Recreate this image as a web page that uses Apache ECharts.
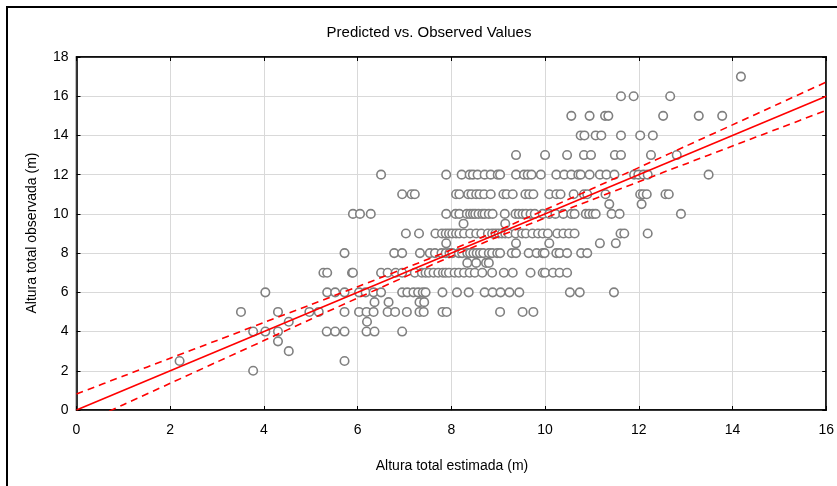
<!DOCTYPE html>
<html>
<head>
<meta charset="utf-8">
<script src="https://cdn.jsdelivr.net/npm/echarts@6/dist/echarts.min.js"></script>
<style>
  html, body { margin: 0; padding: 0; background: #fff; }
  #chart { width: 837px; height: 486px; }
</style>
</head>
<body>
<div id="chart"></div>
<script>
// Observed heights (m) and the estimated heights of the trees at each observed height
const observedLevels = [17, 16, 15, 14, 13, 12, 11, 10.5, 10, 9.5, 9, 8.5, 8, 7.5, 7, 6, 5.5, 5, 4.5, 4, 3.5, 3, 2.5, 2];
const estimatedByLevel = [
  [14.18],
  [11.62, 11.89, 12.67],
  [10.56, 10.95, 11.28, 11.35, 12.52, 13.28, 13.78],
  [10.76, 10.84, 11.08, 11.2, 11.62, 12.03, 12.3],
  [9.38, 10.0, 10.47, 10.83, 10.98, 11.49, 11.62, 12.26, 12.81],
  [6.5, 7.89, 8.22, 8.39, 8.46, 8.56, 8.71, 8.84, 8.99, 9.04, 9.38, 9.55, 9.63, 9.71, 9.91, 10.24, 10.41, 10.56, 10.71, 10.76, 10.95, 11.17, 11.31, 11.48, 11.90, 11.99, 12.10, 12.19, 13.49],
  [6.95, 7.15, 7.22, 8.10, 8.17, 8.36, 8.43, 8.53, 8.60, 8.70, 8.84, 9.11, 9.18, 9.31, 9.58, 9.66, 9.75, 10.09, 10.24, 10.33, 10.61, 10.83, 10.90, 11.29, 12.03, 12.09, 12.17, 12.57, 12.64],
  [11.37, 12.06],
  [5.9, 6.05, 6.28, 7.89, 8.09, 8.17, 8.33, 8.40, 8.46, 8.51, 8.58, 8.66, 8.71, 8.80, 8.88, 9.14, 9.37, 9.44, 9.52, 9.59, 9.69, 9.78, 9.95, 10.09, 10.22, 10.39, 10.56, 10.63, 10.87, 10.94, 11.02, 11.08, 11.42, 11.59, 12.9],
  [8.26, 9.15],
  [7.03, 7.31, 7.66, 7.80, 7.88, 7.95, 8.02, 8.10, 8.17, 8.27, 8.40, 8.53, 8.64, 8.78, 8.87, 8.94, 9.01, 9.08, 9.15, 9.22, 9.37, 9.51, 9.59, 9.73, 9.85, 9.95, 10.06, 10.26, 10.39, 10.51, 10.63, 11.61, 11.69, 12.19],
  [7.89, 9.38, 10.09, 11.17, 11.51],
  [5.72, 6.78, 6.95, 7.33, 7.54, 7.65, 7.79, 7.88, 7.96, 8.02, 8.16, 8.23, 8.34, 8.40, 8.47, 8.54, 8.61, 8.68, 8.80, 8.87, 8.98, 9.04, 9.29, 9.38, 9.65, 9.82, 9.95, 9.99, 10.24, 10.31, 10.47, 10.77, 10.90],
  [8.34, 8.53, 8.74, 8.80],
  [5.27, 5.35, 5.88, 5.90, 6.50, 6.64, 6.81, 6.95, 7.22, 7.37, 7.45, 7.52, 7.62, 7.72, 7.82, 7.88, 7.95, 8.07, 8.16, 8.27, 8.39, 8.50, 8.66, 8.87, 9.12, 9.31, 9.69, 9.95, 10.00, 10.17, 10.31, 10.47],
  [4.03, 5.35, 5.52, 5.72, 6.03, 6.17, 6.34, 6.50, 6.95, 7.06, 7.19, 7.29, 7.39, 7.45, 7.81, 8.12, 8.37, 8.71, 8.88, 9.05, 9.24, 9.45, 10.53, 10.74, 11.47],
  [6.36, 6.66, 7.32, 7.42],
  [3.51, 4.30, 4.97, 5.17, 5.72, 6.03, 6.19, 6.34, 6.64, 6.80, 7.05, 7.32, 7.41, 7.81, 7.90, 9.04, 9.52, 9.75],
  [4.53, 6.20],
  [3.77, 4.03, 4.30, 5.34, 5.52, 5.72, 6.19, 6.36, 6.95],
  [4.30],
  [4.53],
  [2.2, 5.72],
  [3.77]
];

// Fitted line and its 95% confidence band
const fitX = [0, 16];
const fitY = [0, 16];
const bandX = [0, 1, 2, 3, 4, 5, 6, 7, 8, 9, 10, 11, 12, 13, 14, 15, 16];
const bandUpper = [0.82, 1.73, 2.64, 3.55, 4.46, 5.37, 6.29, 7.22, 8.17, 9.16, 10.21, 11.28, 12.36, 13.45, 14.54, 15.63, 16.72];
const bandLower = [-0.82, 0.27, 1.36, 2.45, 3.54, 4.63, 5.71, 6.78, 7.83, 8.84, 9.79, 10.72, 11.64, 12.55, 13.46, 14.37, 15.28];

const titleText = 'Predicted vs. Observed Values';
const xName = 'Altura total estimada (m)';
const yName = 'Altura total observada (m)';

const points = [];
observedLevels.forEach((obs, i) => {
  estimatedByLevel[i].forEach(est => points.push([est, obs]));
});
const zip = (xs, ys) => xs.map((x, i) => [x, ys[i]]);

const FONT = 'Liberation Sans, Arial, sans-serif';
const gridLine = { show: true, lineStyle: { color: '#d9d9d9', width: 1 } };

const chart = echarts.init(document.getElementById('chart'), null, { renderer: 'canvas' });
chart.setOption({
  animation: false,
  backgroundColor: '#fff',
  grid: {
    left: 76.5, right: 9, top: 57, bottom: 76,
    show: true, borderColor: '#000', borderWidth: 1.5, backgroundColor: 'transparent'
  },
  xAxis: [{
    type: 'value', min: 0, max: 16, interval: 2,
    axisLine: { show: true, onZero: false, lineStyle: { color: '#000', width: 1.5 } },
    axisTick: { show: true, inside: true, length: 4, lineStyle: { color: '#000' } },
    axisLabel: { color: '#000', fontFamily: FONT, fontSize: 14, margin: 13 },
    splitLine: gridLine
  }, {
    type: 'value', min: 0, max: 16, interval: 2, position: 'top',
    axisLine: { show: true, onZero: false, lineStyle: { color: '#000', width: 1.5 } },
    axisTick: { show: true, inside: true, length: 4, lineStyle: { color: '#000' } },
    axisLabel: { show: false }, splitLine: { show: false }
  }],
  yAxis: [{
    type: 'value', min: 0, max: 18, interval: 2,
    axisLine: { show: true, onZero: false, lineStyle: { color: '#000', width: 1.5 } },
    axisTick: { show: true, inside: true, length: 4, lineStyle: { color: '#000' } },
    axisLabel: { color: '#000', fontFamily: FONT, fontSize: 14, margin: 8 },
    splitLine: gridLine
  }, {
    type: 'value', min: 0, max: 18, interval: 2, position: 'right',
    axisLine: { show: true, onZero: false, lineStyle: { color: '#000', width: 1.5 } },
    axisTick: { show: true, inside: true, length: 4, lineStyle: { color: '#000' } },
    axisLabel: { show: false }, splitLine: { show: false }
  }],
  graphic: [
    { type: 'rect', shape: { x: 7, y: 7, width: 850, height: 500 },
      style: { fill: 'none', stroke: '#000', lineWidth: 2 }, silent: true },
    { type: 'text', x: 429, y: 33,
      style: { text: titleText, font: '15px ' + FONT, fill: '#000', align: 'center', verticalAlign: 'middle' }, silent: true },
    { type: 'text', x: 452, y: 466,
      style: { text: xName, font: '14px ' + FONT, fill: '#000', align: 'center', verticalAlign: 'middle' }, silent: true },
    { type: 'text', x: 32, y: 233, rotation: Math.PI / 2,
      style: { text: yName, font: '14px ' + FONT, fill: '#000', align: 'center', verticalAlign: 'middle' }, silent: true }
  ],
  series: [
    {
      type: 'scatter', data: points, symbol: 'circle', symbolSize: 8.5,
      itemStyle: { color: '#fff', borderColor: '#808080', borderWidth: 1.6, opacity: 1 },
      z: 2
    },
    {
      type: 'line', data: zip(fitX, fitY), showSymbol: false, symbol: 'none', clip: true,
      lineStyle: { color: '#ff0000', width: 1.6 }, z: 5
    },
    {
      type: 'line', data: zip(bandX, bandUpper), showSymbol: false, symbol: 'none', smooth: 0.3, clip: true,
      lineStyle: { color: '#ff0000', width: 1.6, type: [7, 5] }, z: 5
    },
    {
      type: 'line', data: zip(bandX, bandLower), showSymbol: false, symbol: 'none', smooth: 0.3, clip: true,
      lineStyle: { color: '#ff0000', width: 1.6, type: [7, 5] }, z: 5
    }
  ]
});
</script>
</body>
</html>
